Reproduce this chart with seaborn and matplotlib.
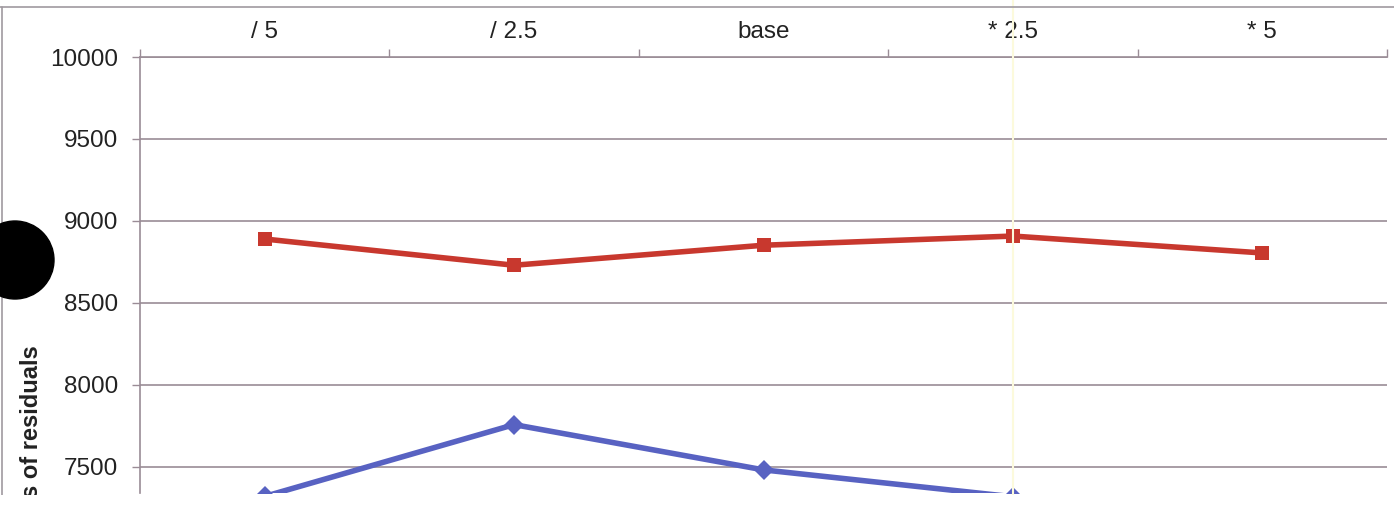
import numpy as np
import pandas as pd
import matplotlib
matplotlib.use("Agg")
import matplotlib.pyplot as plt
import seaborn as sns
from matplotlib.patches import Ellipse, Rectangle
from matplotlib.lines import Line2D

categories = ["/ 5", "/ 2.5", "base", "* 2.5", "* 5"]
red_values = [8890, 8730, 8852, 8908, 8805]
blue_values = [7320, 7758, 7482, 7318, np.nan]
series_names = ["red", "blue"]
y_ticks = [7500, 8000, 8500, 9000, 9500, 10000]
ylabel_text = "s of residuals"

sns.set_theme(style="white")
plt.rcParams["font.family"] = ["Liberation Sans", "DejaVu Sans"]

W, H = 1394, 507
fig = plt.figure(figsize=(W / 100, H / 100), dpi=100)
ax = fig.add_axes([140 / W, 1 - 493 / H, (1387 - 140) / W, (493 - 57) / H])

df = pd.DataFrame({
    "cat": categories * 2,
    "value": red_values + blue_values,
    "series": [series_names[0]] * 5 + [series_names[1]] * 5,
})
df["x"] = df["cat"].map({c: i for i, c in enumerate(categories)})

palette = {"red": "#c8382e", "blue": "#5862c2"}
markers = {"red": "s", "blue": "D"}
sns.lineplot(data=df, x="x", y="value", hue="series", style="series",
             palette=palette, markers=markers, dashes=False, linewidth=4.0,
             markersize=10.5, markeredgewidth=0, legend=False, ax=ax, sort=False)

grid_c = "#9a8c96"
ax.set_ylim(7341, 10000)
ax.set_xlim(-0.5, len(categories) - 0.5)
ax.set_yticks(y_ticks)
ax.set_yticklabels([str(t) for t in y_ticks], fontsize=17.5, color="#222222")
ax.yaxis.grid(True, color=grid_c, linewidth=1.2)
ax.set_axisbelow(True)

ax.xaxis.tick_top()
ax.set_xticks(range(len(categories)))
ax.set_xticklabels(categories, fontsize=17.5, color="#222222")
ax.set_xticks(np.arange(-0.5, len(categories)), minor=True)
ax.tick_params(axis="x", which="major", length=0, pad=10, top=True, bottom=False)
ax.tick_params(axis="x", which="minor", length=6, width=1.0, color=grid_c,
               direction="out", top=True, bottom=False)
ax.tick_params(axis="y", which="major", length=6, width=1.0, color=grid_c,
               direction="out", pad=10, left=True)
ax.set_xlabel("")
ax.set_ylabel("")

for side in ["right", "bottom"]:
    ax.spines[side].set_visible(False)
for side in ["left", "top"]:
    ax.spines[side].set_color(grid_c)
    ax.spines[side].set_linewidth(1.2)

# outer frame lines of the original chart
fig.add_artist(Line2D([0, 1], [1 - 7 / H, 1 - 7 / H], transform=fig.transFigure,
                      color="#a09aa0", linewidth=1.2))
fig.add_artist(Line2D([2 / W, 2 / W], [1 - 7 / H, 1 - 495 / H], transform=fig.transFigure,
                      color="#a09aa0", linewidth=1.2))
# faint yellow scan line
fig.add_artist(Line2D([1013 / W, 1013 / W], [0, 1], transform=fig.transFigure,
                      color="#fcfadc", linewidth=1.5, zorder=0.5))

fig.text(32 / W, 1 - 345 / H, ylabel_text, rotation=90, ha="center", va="top",
         fontsize=17, fontweight="bold", color="#222222")

fig.add_artist(Ellipse((15 / W, 1 - 260 / H), 78 / W, 78 / H, transform=fig.transFigure,
                       color="black", zorder=5))
fig.add_artist(Rectangle((0, 0), 1, 12 / H, transform=fig.transFigure,
                         facecolor="white", edgecolor="none", zorder=10))

fig.savefig("out.png", dpi=100)
